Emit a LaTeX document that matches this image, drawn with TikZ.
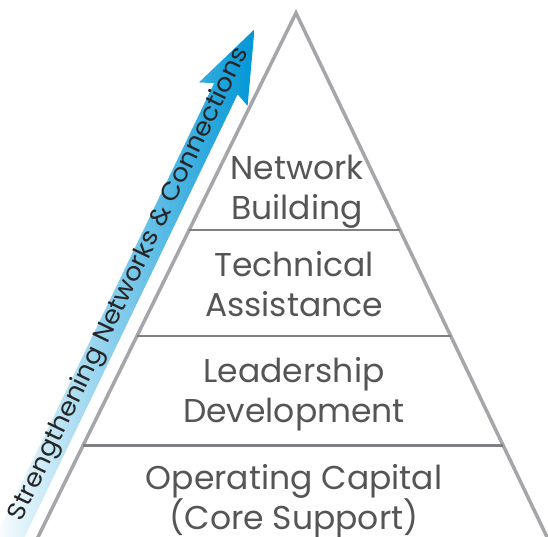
\documentclass[tikz,border=0pt]{standalone}
\usepackage{fontspec}
\setmainfont{Poppins}
\usetikzlibrary{calc}
\definecolor{edge}{RGB}{166,166,170}
\definecolor{tier}{RGB}{128,128,132}
\definecolor{words}{RGB}{85,85,85}
\definecolor{arrowtop}{RGB}{0,150,214}
\definecolor{arrowmid}{RGB}{110,190,235}
\newcommand{\tierline}[1]{\draw[tier,line width=2.5pt] ($(apex)!#1!(bl)$)--($(apex)!#1!(br)$);}
\newcommand{\tiertext}[4]{\node[text=words,align=center,font=\fontsize{33}{40}\selectfont] (#1) at (#2,#3) {#4};}
\begin{document}
\begin{tikzpicture}[x=1pt,y=1pt]
\useasboundingbox (0,0) rectangle (548,537);
\clip (0,0) rectangle (548,537);
\coordinate (apex) at (296,524);
\coordinate (bl) at (38,0);
\coordinate (br) at (547,0);
% shaded arrow along the left side
\begin{scope}[shift={(254.5,507.7)},rotate=64.3]
  \shade[left color=white,middle color=arrowmid,right color=arrowtop]
    (0,0)--(-72,-27)--(-66,-13)--(-580,-13)--(-580,13)--(-66,13)--(-72,27)--cycle;
  \node[rotate=64.3,xscale=1.07,text=black!85,font=\fontsize{25}{30}\selectfont] (climb) at (-284,2) {Strengthening Networks \& Connections};
\end{scope}
% pyramid
\draw[edge,line width=3.5pt,line join=miter] ($(apex)!1.03!(bl)$)--(apex)--($(apex)!1.03!(br)$);
\tierline{0.414}\tierline{0.616}\tierline{0.8256}
\tiertext{nb}{297}{345}{Network\\Building}
\tiertext{ta}{294}{253}{Technical\\Assistance}
\tiertext{ld}{294}{143}{Leadership\\Development}
\tiertext{oc}{294}{36}{Operating Capital\\(Core Support)}
\end{tikzpicture}
\end{document}
